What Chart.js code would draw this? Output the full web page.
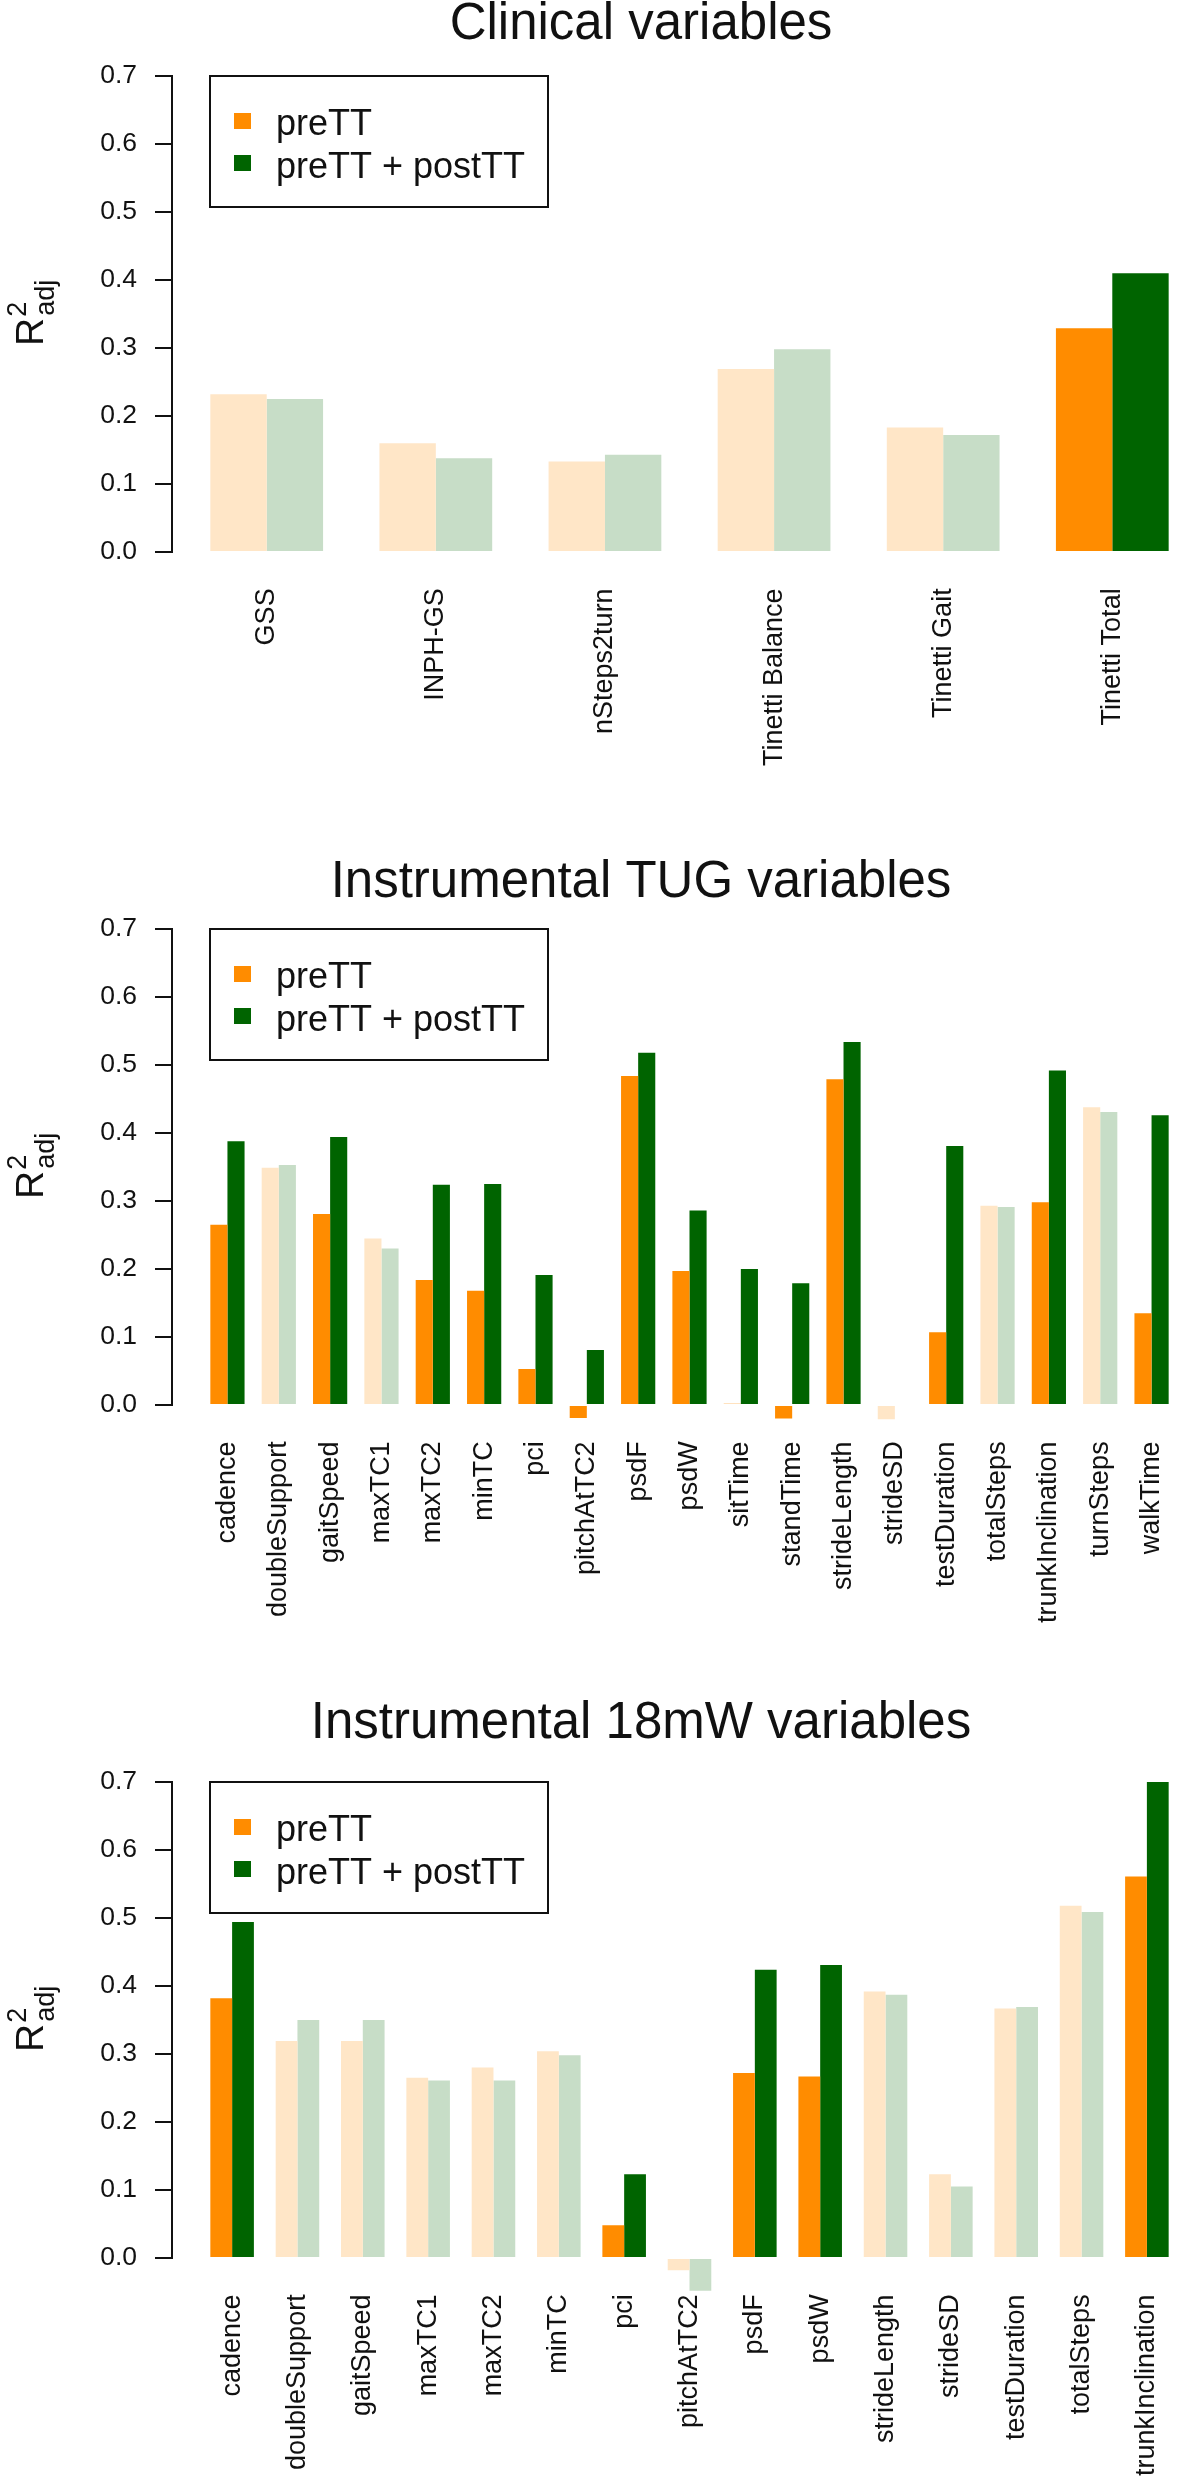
<!DOCTYPE html>
<html>
<head>
<meta charset="utf-8">
<title>R2adj by variable</title>
<script src="https://cdn.jsdelivr.net/npm/chart.js@4.4.2/dist/chart.umd.min.js"></script>
<style>
  body { margin: 0; background: #fff; }
  canvas { display: block; }
</style>
</head>
<body>
<canvas id="clinical" width="1192" height="830"></canvas>
<canvas id="tug" width="1192" height="850"></canvas>
<canvas id="walk" width="1192" height="800"></canvas>
<script>
// Values (adjusted R squared)
const seriesNames = ['preTT', 'preTT + postTT'];
const yTicks = [0, 0.1, 0.2, 0.3, 0.4, 0.5, 0.6, 0.7];

const clinicalLabels = ['GSS', 'INPH-GS', 'nSteps2turn', 'Tinetti Balance', 'Tinetti Gait', 'Tinetti Total'];
const clinicalPre = [0.232, 0.160, 0.133, 0.269, 0.183, 0.329];
const clinicalPost = [0.225, 0.138, 0.143, 0.298, 0.172, 0.410];
const clinicalBright = [false, false, false, false, false, true];

const tugLabels = ['cadence', 'doubleSupport', 'gaitSpeed', 'maxTC1', 'maxTC2', 'minTC', 'pci', 'pitchAtTC2',
  'psdF', 'psdW', 'sitTime', 'standTime', 'strideLength', 'strideSD', 'testDuration', 'totalSteps',
  'trunkInclination', 'turnSteps', 'walkTime'];
const tugPre = [0.265, 0.349, 0.281, 0.245, 0.184, 0.168, 0.053, -0.019, 0.484, 0.197, 0.002, -0.020,
  0.479, -0.021, 0.107, 0.293, 0.298, 0.438, 0.135];
const tugPost = [0.388, 0.353, 0.394, 0.230, 0.324, 0.325, 0.191, 0.081, 0.518, 0.286, 0.200, 0.179,
  0.534, 0.000, 0.381, 0.291, 0.492, 0.431, 0.426];
const tugBright = [true, false, true, false, true, true, true, true, true, true, true, true,
  true, false, true, false, true, false, true];

const walkLabels = ['cadence', 'doubleSupport', 'gaitSpeed', 'maxTC1', 'maxTC2', 'minTC', 'pci', 'pitchAtTC2',
  'psdF', 'psdW', 'strideLength', 'strideSD', 'testDuration', 'totalSteps', 'trunkInclination'];
const walkPre = [0.382, 0.319, 0.319, 0.265, 0.280, 0.304, 0.048, -0.018, 0.272, 0.267, 0.392, 0.123,
  0.367, 0.518, 0.561];
const walkPost = [0.494, 0.350, 0.350, 0.261, 0.261, 0.298, 0.123, -0.048, 0.424, 0.431, 0.387, 0.105,
  0.369, 0.509, 0.700];
const walkBright = [true, false, false, false, false, false, true, false, true, true, false, false,
  false, false, true];

// Look
const FONT = "'Liberation Sans', Arial, sans-serif";
const INK = '#111111';
const BRIGHT = ['#FF8C00', '#006400'];
const PALE = ['#FFE6C7', '#C7DDC7'];
const Y_MIN = -0.052;
const Y_MAX = 0.7;
const PX_PER_UNIT = 680;
const AXIS_X = 172;

/**
 * x range of an R barplot (beside, space = c(0,1)) with n groups,
 * expressed in group indices; the canvas stops a bit before R's plot edge.
 */
function xBounds(n) {
  const span = 3 * n - 1;
  const lo = 1 - 0.04 * span;
  const hi = 3 * n + 0.04 * span;
  const right = lo + (hi - lo) * (1192 - AXIS_X) / (1207 - AXIS_X);
  return { min: (lo - 2) / 3, max: (right - 2) / 3 };
}

// Title, R-style y axis line, legend box and the R²adj axis label
const panelDecor = {
  id: 'panel',
  afterDraw(chart, args, opts) {
    const { ctx, chartArea } = chart;
    const y = chart.scales.y;
    const zero = y.getPixelForValue(0);
    const top = y.getPixelForValue(Y_MAX);
    ctx.save();
    ctx.strokeStyle = INK;
    ctx.lineWidth = 2;
    ctx.beginPath();
    ctx.moveTo(chartArea.left, zero + 1);
    ctx.lineTo(chartArea.left, top - 1);
    ctx.stroke();

    ctx.fillStyle = INK;
    ctx.textBaseline = 'alphabetic';
    ctx.textAlign = 'center';
    ctx.font = `51px ${FONT}`;
    ctx.fillText(opts.title, 641, opts.titleY);

    // legend
    ctx.strokeRect(210, top, 338, 131);
    ctx.textAlign = 'left';
    ctx.font = `36px ${FONT}`;
    seriesNames.forEach((name, k) => {
      ctx.fillStyle = BRIGHT[k];
      ctx.fillRect(234, top + 37 + k * 42, 17, 16);
      ctx.fillStyle = INK;
      ctx.fillText(name, 276, top + 59 + k * 43);
    });

    // R²adj, rotated
    ctx.translate(43, (zero + top) / 2 + 32);
    ctx.rotate(-Math.PI / 2);
    ctx.font = `39px ${FONT}`;
    ctx.fillText('R', 0, 0);
    const rw = ctx.measureText('R').width;
    ctx.font = `27px ${FONT}`;
    ctx.fillText('2', rw + 1, -17);
    ctx.fillText('adj', rw + 2, 11);
    ctx.restore();
  }
};

function drawPanel(id, title, titleY, top, labels, pre, post, bright) {
  const canvas = document.getElementById(id);
  const axisH = canvas.height - top - (Y_MAX - Y_MIN) * PX_PER_UNIT;
  const xb = xBounds(labels.length);
  const bar = (k, values) => ({
    label: seriesNames[k],
    data: values.map((v, i) => ({ x: i, y: v })),
    backgroundColor: c => bright[c.dataIndex] ? BRIGHT[k] : PALE[k],
    borderWidth: 0,
    barPercentage: 1,
    categoryPercentage: 2 / 3
  });

  new Chart(canvas, {
    type: 'bar',
    data: { datasets: [bar(0, pre), bar(1, post)] },
    options: {
      responsive: false,
      animation: false,
      devicePixelRatio: 1,
      layout: { padding: { top: top, left: 0, right: 0, bottom: 0 } },
      scales: {
        x: {
          type: 'linear',
          min: xb.min,
          max: xb.max,
          offset: false,
          grid: { display: false, drawTicks: false },
          border: { display: false },
          afterBuildTicks: s => { s.ticks = labels.map((_, i) => ({ value: i })); },
          afterFit: s => { s.height = axisH; },
          ticks: {
            autoSkip: false,
            minRotation: 90,
            maxRotation: 90,
            padding: 1,
            color: INK,
            font: { family: FONT, size: 27 },
            callback: v => labels[v]
          }
        },
        y: {
          min: Y_MIN,
          max: Y_MAX,
          afterBuildTicks: s => { s.ticks = yTicks.map(v => ({ value: v })); },
          afterFit: s => { s.width = AXIS_X; },
          grid: { drawOnChartArea: false, drawTicks: true, tickLength: 17, color: INK, lineWidth: 2 },
          border: { display: false },
          ticks: {
            padding: 18,
            color: INK,
            font: { family: FONT, size: 26.5 },
            callback: v => v.toFixed(1)
          }
        }
      },
      plugins: {
        legend: { display: false },
        tooltip: { enabled: false },
        panel: { title: title, titleY: titleY }
      }
    },
    plugins: [panelDecor]
  });
}

drawPanel('clinical', 'Clinical variables', 39, 76, clinicalLabels, clinicalPre, clinicalPost, clinicalBright);
drawPanel('tug', 'Instrumental TUG variables', 67, 99, tugLabels, tugPre, tugPost, tugBright);
drawPanel('walk', 'Instrumental 18mW variables', 58, 102, walkLabels, walkPre, walkPost, walkBright);
</script>
</body>
</html>
